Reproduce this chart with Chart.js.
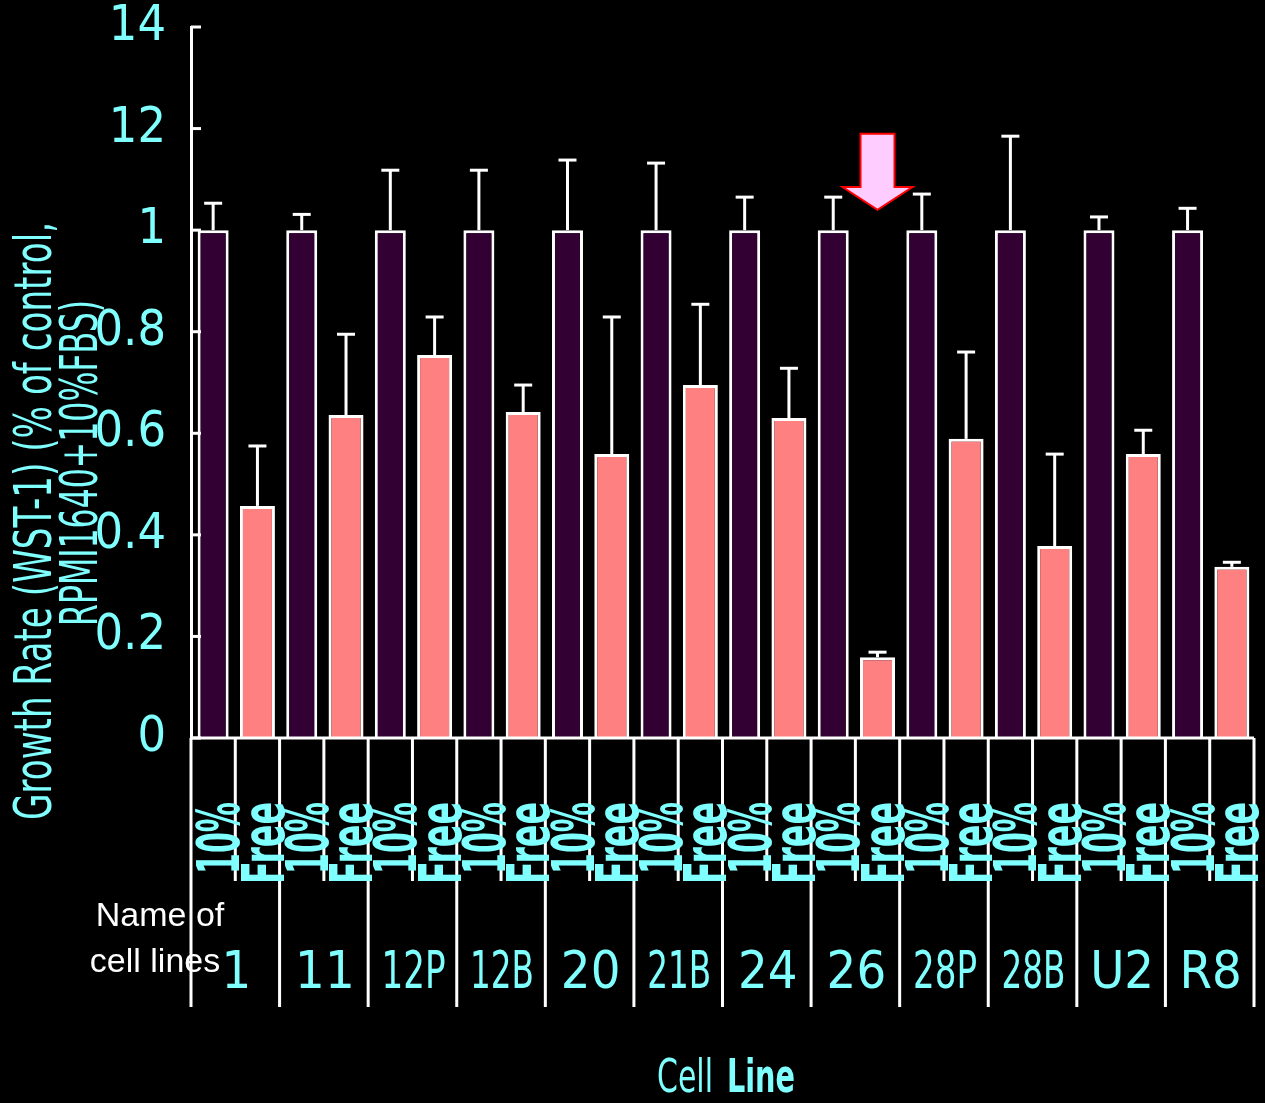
<!DOCTYPE html>
<html>
<head>
<meta charset="utf-8">
<script src="https://cdn.jsdelivr.net/npm/chart.js@4.4.1/dist/chart.umd.min.js"></script>
<style>
  html, body { margin: 0; padding: 0; background: #000; }
  canvas { display: block; }
</style>
</head>
<body>
<canvas id="growthChart" width="1265" height="1103"></canvas>
<script>
// data
const cellLines = ['1', '11', '12P', '12B', '20', '21B', '24', '26', '28P', '28B', 'U2', 'R8'];
const subLabels = ['10%', 'Free'];
const fbsValues = [1, 1, 1, 1, 1, 1, 1, 1, 1, 1, 1, 1];
const fbsErrors = [0.053, 0.031, 0.118, 0.118, 0.138, 0.132, 0.065, 0.065, 0.071, 0.185, 0.026, 0.043];
const freeValues = [0.457, 0.636, 0.754, 0.642, 0.559, 0.695, 0.630, 0.159, 0.589, 0.378, 0.559, 0.337];
const freeErrors = [0.118, 0.159, 0.075, 0.053, 0.270, 0.159, 0.098, 0.010, 0.171, 0.181, 0.047, 0.009];
const yTickLabels = ['0', '0.2', '0.4', '0.6', '0.8', '1', '12', '14'];
const yTitle = ['Growth Rate (WST-1) (% of control,', 'RPMI1640+10%FBS)'];
const arrowTarget = 7;   // "26" Free bar gets the arrow

const CYAN = '#80FFFF';
const NARROW = '"Liberation Sans Narrow", "DejaVu Sans Condensed", "Liberation Sans", sans-serif';

const drawLine = (ctx, x1, y1, x2, y2) => {
    ctx.beginPath();
    ctx.moveTo(x1, y1);
    ctx.lineTo(x2, y2);
    ctx.stroke();
};

// Everything the plain bar chart can't draw: error bars, table below, arrow, titles
const decorations = {
    id: 'decorations',
    afterDatasetsDraw(chart) {
        const { ctx, chartArea: a, scales: { x, y } } = chart;
        ctx.save();
        ctx.strokeStyle = '#fff';
        ctx.lineWidth = 3;

        // error bars (upper only)
        chart.data.datasets.forEach((ds, di) => {
            chart.getDatasetMeta(di).data.forEach((bar, i) => {
                const top = y.getPixelForValue(ds.data[i] + ds.errors[i]);
                drawLine(ctx, bar.x, bar.y, bar.x, top);
                drawLine(ctx, bar.x - 9, top, bar.x + 9, top);
            });
        });

        // x axis line + y axis extension into the table
        drawLine(ctx, a.left, a.bottom, a.right, a.bottom);
        drawLine(ctx, a.left, a.bottom, a.left, 1007);

        // inward ticks on y axis
        for (let v = 0; v <= 1.401; v += 0.2) {
            const py = y.getPixelForValue(v);
            drawLine(ctx, a.left, py, a.left + 10, py);
        }

        // table lines
        const catW = (a.right - a.left) / cellLines.length;
        cellLines.forEach((name, i) => {
            const cx = x.getPixelForValue(i);
            drawLine(ctx, cx + catW / 2, a.bottom, cx + catW / 2, 1007);
            drawLine(ctx, cx, a.bottom, cx, 881);
        });

        // arrow over the 26 Free bar
        const tip = chart.getDatasetMeta(1).data[arrowTarget];
        const ax = tip.x;
        const yTop = y.getPixelForValue(1.19), yBase = y.getPixelForValue(1.085), yTip = y.getPixelForValue(1.04);
        ctx.beginPath();
        ctx.moveTo(ax - 17, yTop);
        ctx.lineTo(ax + 17, yTop);
        ctx.lineTo(ax + 17, yBase);
        ctx.lineTo(ax + 35, yBase);
        ctx.lineTo(ax, yTip);
        ctx.lineTo(ax - 35, yBase);
        ctx.lineTo(ax - 17, yBase);
        ctx.closePath();
        ctx.fillStyle = '#FFCCFF';
        ctx.fill();
        ctx.strokeStyle = '#FF0000';
        ctx.lineWidth = 2;
        ctx.stroke();
        ctx.restore();
    },
    afterDraw(chart) {
        const { ctx, scales: { x } } = chart;
        ctx.save();
        ctx.fillStyle = CYAN;

        // rotated 10% / Free labels
        ctx.font = `bold 58px ${NARROW}`;
        ctx.textAlign = 'right';
        ctx.textBaseline = 'middle';
        chart.data.datasets.forEach((ds, di) => {
            chart.getDatasetMeta(di).data.forEach(bar => {
                ctx.save();
                ctx.translate(bar.x + 11, 802);
                ctx.rotate(-Math.PI / 2);
                ctx.fillText(subLabels[di], 0, 0, di === 0 ? 72 : 82);
                ctx.restore();
            });
        });

        // cell line names
        ctx.font = `52px ${NARROW}`;
        ctx.textAlign = 'center';
        ctx.textBaseline = 'alphabetic';
        cellLines.forEach((name, i) => {
            ctx.fillText(name, x.getPixelForValue(i) + 1, 988, 64);
        });

        // row header
        ctx.fillStyle = '#fff';
        ctx.font = '34px "Liberation Sans", Arial, sans-serif';
        ctx.fillText('Name of', 160, 926);
        ctx.fillText('cell lines', 155, 972);

        // y title, two rotated lines
        ctx.fillStyle = CYAN;
        ctx.font = `52px ${NARROW}`;
        ctx.textAlign = 'left';
        ctx.save();
        ctx.translate(51, 820);
        ctx.rotate(-Math.PI / 2);
        ctx.fillText(yTitle[0], 0, 0, 598);
        ctx.restore();
        ctx.save();
        ctx.translate(97, 626);
        ctx.rotate(-Math.PI / 2);
        ctx.fillText(yTitle[1], 0, 0, 326);
        ctx.restore();

        // x title
        ctx.font = `46px ${NARROW}`;
        ctx.fillText('Cell', 657, 1092, 56);
        ctx.font = `bold 46px ${NARROW}`;
        ctx.fillText('Line', 727, 1092, 68);
        ctx.restore();
    }
};

new Chart(document.getElementById('growthChart').getContext('2d'), {
    type: 'bar',
    data: {
        labels: cellLines,
        datasets: [
            {
                label: '10% FBS',
                data: fbsValues,
                errors: fbsErrors,
                backgroundColor: '#330033',
                borderColor: '#fff',
                borderWidth: 3,
                categoryPercentage: 1.0,
                barPercentage: 0.70
            },
            {
                label: 'Free',
                data: freeValues,
                errors: freeErrors,
                backgroundColor: '#FF8080',
                borderColor: '#fff',
                borderWidth: 3,
                categoryPercentage: 1.0,
                barPercentage: 0.79
            }
        ]
    },
    options: {
        responsive: false,
        animation: false,
        devicePixelRatio: 1,
        layout: {
            padding: { left: 0, right: 11, top: 27, bottom: 365 }
        },
        plugins: {
            legend: { display: false },
            tooltip: { enabled: false }
        },
        scales: {
            x: {
                display: false
            },
            y: {
                min: 0,
                max: 1.4,
                afterFit: s => {
                    s.width = 191;
                    s.paddingTop = 0;
                    s.paddingBottom = 0;
                },
                ticks: {
                    stepSize: 0.2,
                    color: CYAN,
                    padding: 25,
                    font: { family: NARROW, size: 50 },
                    callback: (v, i) => yTickLabels[i]
                },
                grid: { drawOnChartArea: false, drawTicks: false },
                border: { display: true, color: '#fff', width: 3 }
            }
        }
    },
    plugins: [decorations]
});
</script>
</body>
</html>
